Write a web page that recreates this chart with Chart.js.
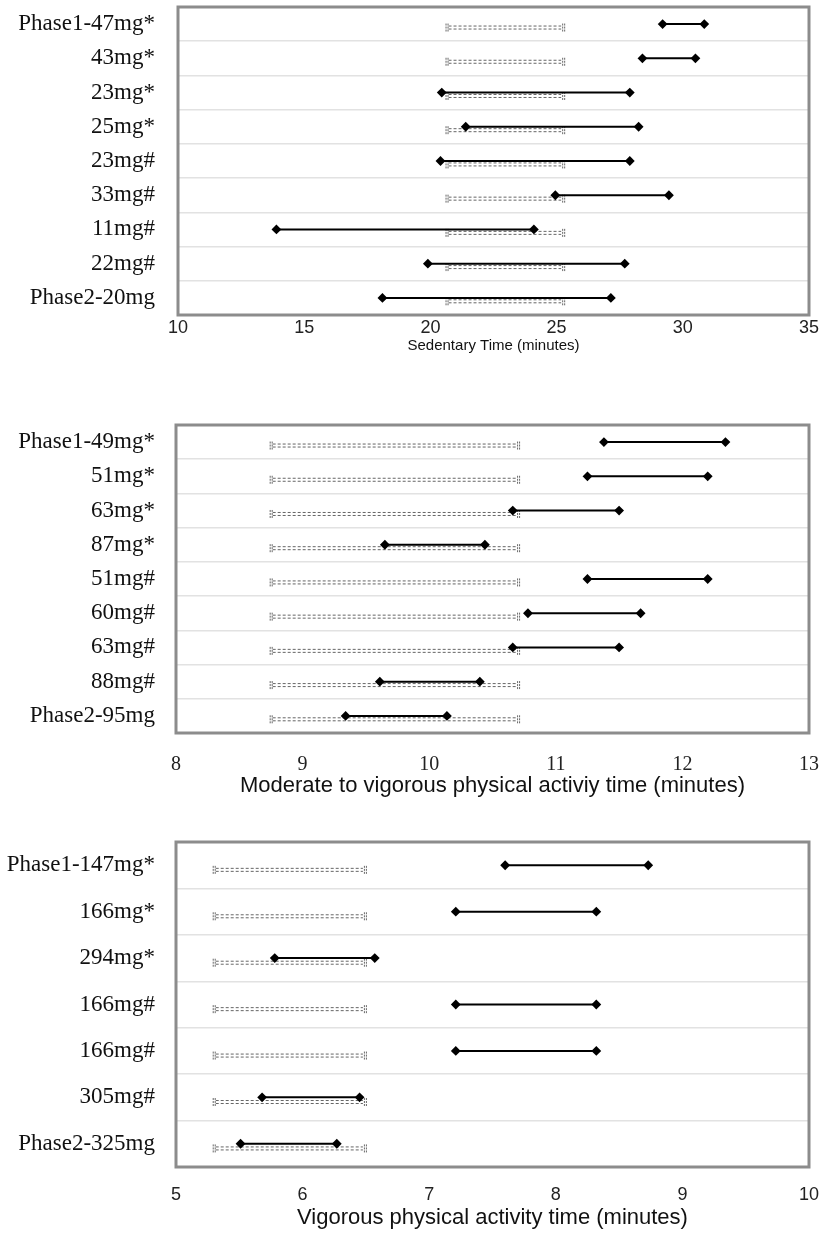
<!DOCTYPE html>
<html>
<head>
<meta charset="utf-8">
<script src="https://cdn.jsdelivr.net/npm/chart.js@4"></script>
<style>
  body { margin: 0; background: #fff; }
  .box { position: absolute; left: 0; width: 823px; }
</style>
</head>
<body>
<div class="box" style="top:0;height:372px"><canvas id="c1"></canvas></div>
<div class="box" style="top:372px;height:428px"><canvas id="c2"></canvas></div>
<div class="box" style="top:800px;height:434px"><canvas id="c3"></canvas></div>
<script>
// sedentary time
const sedLabels = ["Phase1-47mg*", "43mg*", "23mg*", "25mg*", "23mg#", "33mg#", "11mg#", "22mg#", "Phase2-20mg"];
const sedLow = [29.2, 28.4, 20.45, 21.4, 20.4, 24.95, 13.9, 19.9, 18.1];
const sedHigh = [30.85, 30.5, 27.9, 28.25, 27.9, 29.45, 24.1, 27.7, 27.15];
const sedRef = [20.6, 25.3];

// moderate to vigorous
const mvpaLabels = ["Phase1-49mg*", "51mg*", "63mg*", "87mg*", "51mg#", "60mg#", "63mg#", "88mg#", "Phase2-95mg"];
const mvpaLow = [11.38, 11.25, 10.66, 9.65, 11.25, 10.78, 10.66, 9.61, 9.34];
const mvpaHigh = [12.34, 12.2, 11.5, 10.44, 12.2, 11.67, 11.5, 10.4, 10.14];
const mvpaRef = [8.74, 10.71];

// vigorous
const vpaLabels = ["Phase1-147mg*", "166mg*", "294mg*", "166mg#", "166mg#", "305mg#", "Phase2-325mg"];
const vpaLow = [7.6, 7.21, 5.78, 7.21, 7.21, 5.68, 5.51];
const vpaHigh = [8.73, 8.32, 6.57, 8.32, 8.32, 6.45, 6.27];
const vpaRef = [5.29, 6.5];

// dashed reference range drawn under every row
const refBars = {
  id: "refBars",
  beforeDatasetsDraw(chart, args, opts) {
    const ctx = chart.ctx;
    const xs = chart.scales.x, ys = chart.scales.y;
    const rowH = Math.abs(ys.getPixelForValue(2) - ys.getPixelForValue(1));
    const x1 = xs.getPixelForValue(opts.range[0]);
    const x2 = xs.getPixelForValue(opts.range[1]);
    ctx.save();
    ctx.strokeStyle = "#666";
    ctx.lineWidth = 1;
    opts.labels.forEach((l, i) => {
      const yc = ys.getPixelForValue(i + 1) + rowH * 0.1;
      ctx.setLineDash([3, 2]);
      ctx.beginPath();
      ctx.moveTo(x1 + 3, yc - 1.5); ctx.lineTo(x2 - 3, yc - 1.5);
      ctx.moveTo(x1 + 3, yc + 1.5); ctx.lineTo(x2 - 3, yc + 1.5);
      ctx.stroke();
      ctx.setLineDash([2, 1]);
      ctx.beginPath();
      [x1, x1 + 2, x2 - 2, x2].forEach(x => {
        ctx.moveTo(x + 0.5, yc - 4); ctx.lineTo(x + 0.5, yc + 4);
      });
      ctx.stroke();
    });
    ctx.restore();
  }
};

const plotBorder = {
  id: "plotBorder",
  afterDraw(chart) {
    const a = chart.chartArea, ctx = chart.ctx;
    ctx.save();
    ctx.strokeStyle = "#8c8c8c";
    ctx.lineWidth = 3;
    ctx.strokeRect(a.left, a.top, a.right - a.left, a.bottom - a.top);
    ctx.restore();
  }
};

function noPad(s) {
  s.paddingTop = 0; s.paddingBottom = 0; s.paddingLeft = 0; s.paddingRight = 0;
}

function makeChart(id, labels, low, high, ref, cfg) {
  const n = labels.length;
  const datasets = labels.map((l, i) => ({
    data: [{ x: low[i], y: i + 1 }, { x: high[i], y: i + 1 }],
    showLine: true,
    borderColor: "#000",
    borderWidth: 2,
    pointStyle: "rectRot",
    pointRadius: 3.5,
    pointBackgroundColor: "#000",
    pointBorderColor: "#000"
  }));
  new Chart(document.getElementById(id), {
    type: "scatter",
    data: { datasets: datasets },
    options: {
      responsive: true,
      maintainAspectRatio: false,
      animation: false,
      layout: { padding: { top: cfg.top, right: 14, left: 0, bottom: 0 } },
      plugins: {
        legend: { display: false },
        tooltip: { enabled: false },
        refBars: { labels: labels, range: ref }
      },
      scales: {
        x: {
          type: "linear",
          min: cfg.min,
          max: cfg.max,
          grid: { display: false, drawTicks: false },
          border: { display: false },
          afterFit: s => { s.height = cfg.xh; noPad(s); },
          ticks: {
            stepSize: cfg.step,
            color: "#222",
            padding: cfg.tickPad,
            maxRotation: 0,
            font: { family: cfg.tickFamily, size: cfg.tickSize }
          },
          title: {
            display: true,
            text: cfg.title,
            color: "#111",
            font: { family: "Liberation Sans", size: cfg.titleSize },
            padding: { top: 0, bottom: cfg.titlePad }
          }
        },
        y: {
          type: "linear",
          reverse: true,
          min: 0.5,
          max: n + 0.5,
          grid: { display: false, drawTicks: false },
          border: { display: false },
          afterBuildTicks: s => { s.ticks = labels.map((l, i) => ({ value: i + 1 })); },
          afterFit: s => { s.width = cfg.left; noPad(s); },
          ticks: {
            padding: cfg.labelPad,
            color: "#111",
            font: { family: "Liberation Serif", size: 23 },
            callback: v => labels[v - 1]
          }
        },
        yg: {
          type: "linear",
          position: "left",
          reverse: true,
          min: 0.5,
          max: n + 0.5,
          afterBuildTicks: s => { s.ticks = labels.slice(1).map((l, i) => ({ value: i + 1.5 })); },
          afterFit: s => { s.width = 0; noPad(s); },
          ticks: { display: false },
          grid: { color: "#e2e2e2", lineWidth: 1.5, drawTicks: false },
          border: { display: false }
        }
      }
    },
    plugins: [refBars, plotBorder]
  });
}

makeChart("c1", sedLabels, sedLow, sedHigh, sedRef, {
  top: 7, left: 178, labelPad: 23, xh: 57, min: 10, max: 35, step: 5,
  tickFamily: "Liberation Sans", tickSize: 18, tickPad: 2,
  title: "Sedentary Time (minutes)", titleSize: 15, titlePad: 17
});
makeChart("c2", mvpaLabels, mvpaLow, mvpaHigh, mvpaRef, {
  top: 53, left: 176, labelPad: 21, xh: 67, min: 8, max: 13, step: 1,
  tickFamily: "Liberation Serif", tickSize: 20, tickPad: 20,
  title: "Moderate to vigorous physical activiy time (minutes)", titleSize: 22, titlePad: 1
});
makeChart("c3", vpaLabels, vpaLow, vpaHigh, vpaRef, {
  top: 42, left: 176, labelPad: 21, xh: 67, min: 5, max: 10, step: 1,
  tickFamily: "Liberation Sans", tickSize: 18, tickPad: 17,
  title: "Vigorous physical activity time (minutes)", titleSize: 22, titlePad: 3
});
</script>
</body>
</html>
